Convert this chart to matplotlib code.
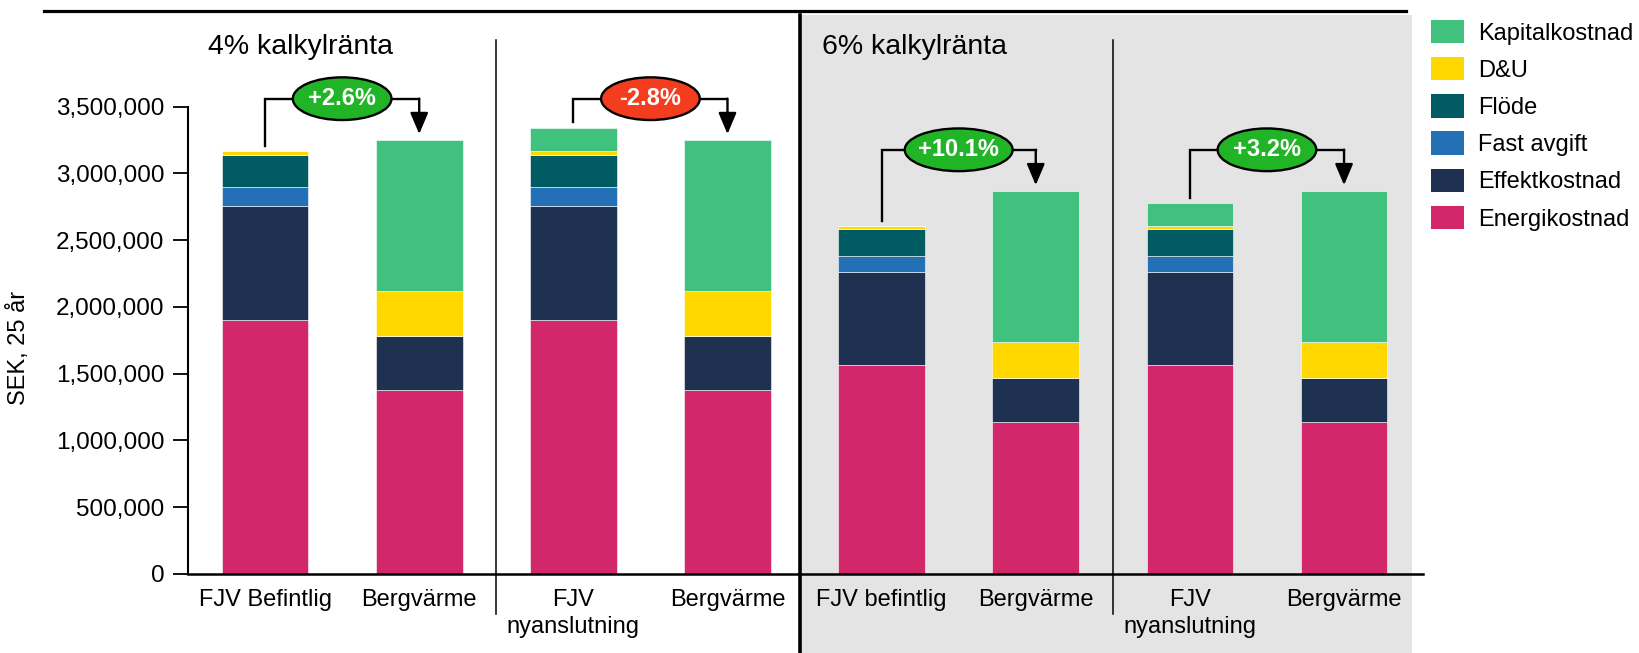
import matplotlib
matplotlib.use("Agg")
import matplotlib.pyplot as plt
from matplotlib.patches import Ellipse, Rectangle, Patch
from matplotlib.lines import Line2D
from matplotlib.ticker import FuncFormatter

plt.rcParams['font.family'] = ['Liberation Sans', 'DejaVu Sans']

# === Data (SEK, 25 år) ===
categories = ['FJV Befintlig', 'Bergvärme', 'FJV\nnyanslutning', 'Bergvärme',
              'FJV befintlig', 'Bergvärme', 'FJV\nnyanslutning', 'Bergvärme']

energikostnad = [1900000, 1378000, 1900000, 1378000, 1566000, 1135000, 1566000, 1135000]
effektkostnad = [855000, 407000, 855000, 407000, 696000, 329000, 696000, 329000]
fast_avgift = [142000, 0, 142000, 0, 118000, 0, 118000, 0]
flode = [240000, 0, 240000, 0, 200000, 0, 200000, 0]
d_och_u = [30000, 332000, 30000, 332000, 25000, 274000, 25000, 274000]
kapitalkostnad = [0, 1133000, 175000, 1133000, 0, 1129000, 172000, 1129000]

group_titles = ['4% kalkylränta', '6% kalkylränta']
change_labels = ['+2.6%', '-2.8%', '+10.1%', '+3.2%']

series = [
    ('Energikostnad', energikostnad, '#D2286B'),
    ('Effektkostnad', effektkostnad, '#1F3150'),
    ('Fast avgift', fast_avgift, '#2370B6'),
    ('Flöde', flode, '#005C62'),
    ('D&U', d_och_u, '#FFD800'),
    ('Kapitalkostnad', kapitalkostnad, '#40C17E'),
]

# === Figure ===
fig = plt.figure(figsize=(16.39, 6.53), dpi=100)
ax = fig.add_axes([0.1147, 0.1214, 0.868 - 0.1147, 0.977 - 0.1214])
ax.patch.set_alpha(0)

x = list(range(len(categories)))
ymax = 4187000
ymin_fig = -594000
ax.set_xlim(-0.5, 7.51)
ax.set_ylim(0, ymax)

# grey background for the 6% half
ax.add_patch(Rectangle((3.47, ymin_fig), 7.44 - 3.47, ymax - ymin_fig,
                       facecolor='#E4E4E4', edgecolor='none', zorder=0, clip_on=False))

bottom = [0] * len(x)
for name, vals, col in series:
    ax.bar(x, vals, width=0.563, bottom=bottom, color=col, label=name,
           edgecolor='#FFFFFF', linewidth=0.4, zorder=2)
    bottom = [b + v for b, v in zip(bottom, vals)]
totals = bottom

# separators
for sx in [1.5, 5.5]:
    ax.plot([sx, sx], [-302000, 4000000], color='black', lw=1.1, clip_on=False, zorder=3)
ax.plot([3.47, 3.47], [ymin_fig, ymax], color='black', lw=2.6, clip_on=False, zorder=3)

# group titles
ax.text(-0.37, 3950000, group_titles[0], fontsize=20.5, va='center', ha='left')
ax.text(3.61, 3950000, group_titles[1], fontsize=20.5, va='center', ha='left')

# change brackets
for k, lab in enumerate(change_labels):
    i, j = 2 * k, 2 * k + 1
    level = totals[j] + 310000
    ax.plot([x[i], x[i], x[j]], [totals[i] + 40000, level, level],
            color='black', lw=1.7, zorder=4, solid_joinstyle='miter')
    ax.annotate('', xy=(x[j], totals[j] + 45000), xytext=(x[j], level),
                arrowprops=dict(arrowstyle='-|>,head_length=1.3,head_width=0.55',
                                color='black', lw=1.7, shrinkA=0, shrinkB=0), zorder=4)
    fc = '#F43C1F' if lab.startswith('-') else '#22B427'
    w = 0.70 if len(lab) > 5 else 0.64
    ax.add_patch(Ellipse(((x[i] + x[j]) / 2, level), w, 320000, facecolor=fc,
                         edgecolor='black', lw=1.7, zorder=5))
    ax.text((x[i] + x[j]) / 2, level, lab, color='white', fontsize=17, fontweight='bold',
            ha='center', va='center', zorder=6)

# axes styling
ax.spines['top'].set_visible(False)
ax.spines['right'].set_visible(False)
ax.spines['left'].set_bounds(0, 3500000)
ax.spines['left'].set_linewidth(1.5)
ax.spines['bottom'].set_linewidth(1.8)
ax.set_yticks(range(0, 3500001, 500000))
ax.yaxis.set_major_formatter(FuncFormatter(lambda v, p: f'{int(v):,}'))
ax.tick_params(axis='y', labelsize=17.5, length=11, width=1.3, pad=6)
ax.set_xticks(x)
ax.set_xticklabels(categories, fontsize=17)
ax.tick_params(axis='x', length=0, pad=11)
for t in ax.get_xticklabels():
    t.set_linespacing(1.3)

fig.text(19 / 1639, 0.467, 'SEK, 25 år', rotation=90, fontsize=17,
         ha='center', va='center')

# top rule
fig.add_artist(Line2D([44 / 1639, 1406 / 1639], [1 - 10.5 / 653] * 2, color='black', lw=2.3))

# legend (top to bottom order)
handles = [Patch(facecolor=c, label=n) for n, v, c in series[::-1]]
fig.legend(handles=handles, loc='upper left', bbox_to_anchor=(1414 / 1639, 0.995),
           frameon=False, fontsize=17, handlelength=1.4, handleheight=1.15,
           handletextpad=0.6, labelspacing=0.53, borderaxespad=0.3)

fig.savefig('out.png', dpi=100)
